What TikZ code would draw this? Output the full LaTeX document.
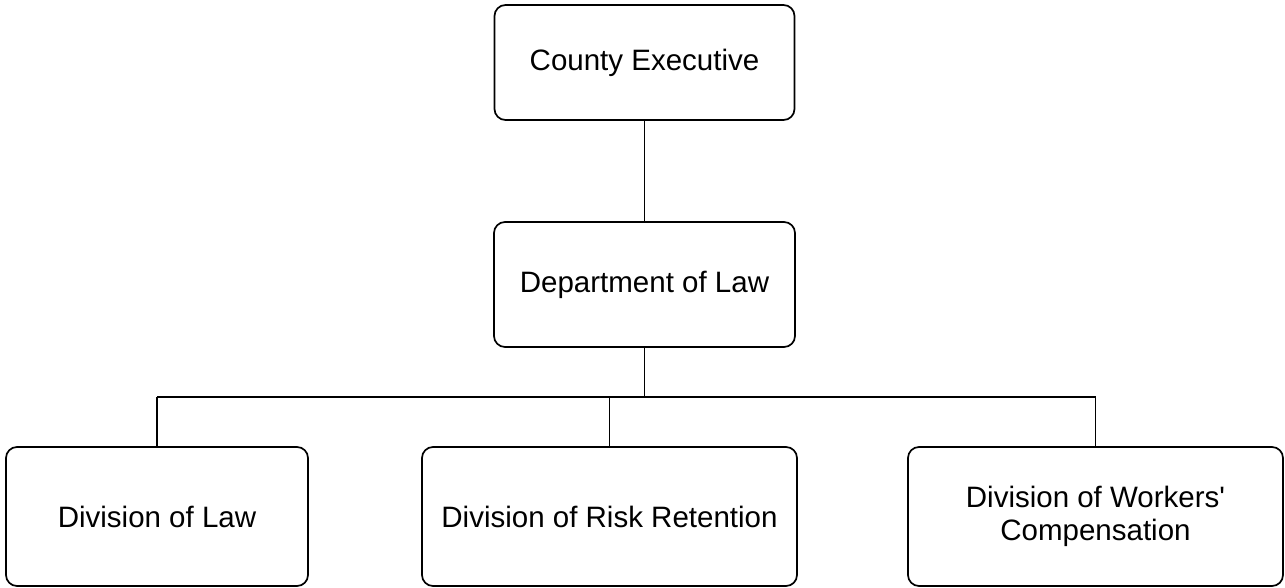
\documentclass[tikz,border=0pt]{standalone}
\usepackage{fontspec}
\setmainfont{Liberation Sans}
\begin{document}
\begin{tikzpicture}[x=1pt,y=-1pt,
  orgbox/.style={draw=black, line width=1.7pt, rounded corners=11pt,
    align=center, inner sep=0pt, font=\fontsize{29.5}{33.5}\selectfont},
  link/.style={draw=black, line width=1.7pt}]
  \useasboundingbox (0,0) rectangle (1285,588);
  % top level
  \node[orgbox, minimum width=300pt, minimum height=115pt] (ce) at (644.5,62.5) {County Executive};
  \node[orgbox, minimum width=301pt, minimum height=125pt] (dl) at (644.5,284.5) {Department of Law};
  % divisions
  \node[orgbox, minimum width=302pt, minimum height=139pt] (dlaw) at (157,516.5) {Division of Law};
  \node[orgbox, minimum width=375pt, minimum height=139pt] (drr) at (609.5,516.5) {Division of Risk Retention};
  \node[orgbox, minimum width=375pt, minimum height=139pt] (dwc) at (1095.5,516.5) {Division of Workers\textquotesingle\\Compensation};
  % bus line
  \coordinate (bus) at (0,397);
  \draw[link] (ce) -- (dl);
  \draw[link] (dl.south) -- (dl.south |- bus);
  \draw[link] (dlaw.north |- bus) -- (dwc.north |- bus);
  \draw[link] (dlaw.north |- bus) -- (dlaw.north);
  \draw[link] (drr.north |- bus) -- (drr.north);
  \draw[link] (dwc.north |- bus) -- (dwc.north);
\end{tikzpicture}
\end{document}
